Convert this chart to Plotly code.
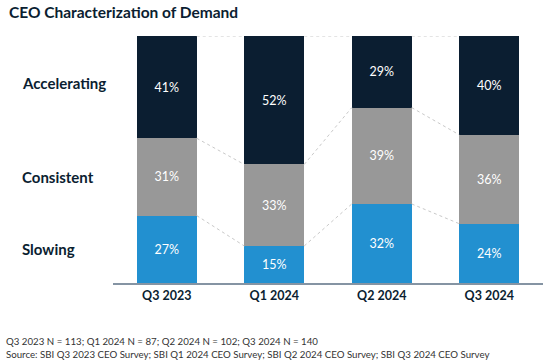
import plotly.graph_objects as go

categories = ["Q3 2023", "Q1 2024", "Q2 2024", "Q3 2024"]
slowing = [27, 15, 32, 24]
consistent = [31, 33, 39, 36]
accelerating = [41, 52, 29, 40]
series_names = ["Slowing", "Consistent", "Accelerating"]
title = "CEO Characterization of Demand"
note1 = "Q3 2023 N = 113; Q1 2024 N = 87; Q2 2024 N = 102; Q3 2024 N = 140"
note2 = "Source: SBI Q3 2023 CEO Survey; SBI Q1 2024 CEO Survey; SBI Q2 2024 CEO Survey; SBI Q3 2024 CEO Survey"

colors = ["#2290D0", "#989898", "#0B1E31"]
series = [slowing, consistent, accelerating]
x = list(range(len(categories)))
bw = 0.558

fig = go.Figure()

# connector lines (normalized cumulative boundaries)
totals = [sum(v) for v in zip(*series)]
cum = [0] * len(categories)
bounds = []
for s in series:
    cum = [c + v for c, v in zip(cum, s)]
    bounds.append([100 * c / t for c, t in zip(cum, totals)])
for b in bounds:
    xs, ys = [], []
    for i in range(len(categories) - 1):
        xs += [i + bw / 2, i + 1 - bw / 2, None]
        ys += [b[i], b[i + 1], None]
    fig.add_trace(go.Scatter(x=xs, y=ys, mode="lines", showlegend=False, hoverinfo="skip",
                             line=dict(color="#c9c9c9", width=1, dash="dot")))

for name, s, c in zip(series_names, series, colors):
    fig.add_trace(go.Bar(
        x=x, y=s, name=name, marker=dict(color=c, line=dict(width=0)), width=bw,
        text=[f"{v}%" for v in s], textposition="inside", insidetextanchor="middle",
        textfont=dict(color="white", size=12.5, family="Lato"), showlegend=False,
    ))

fig.update_layout(
    barmode="stack", barnorm="percent",
    width=545, height=361, margin=dict(l=113, r=2, t=36, b=78),
    plot_bgcolor="white", paper_bgcolor="white",
    font=dict(family="Lato", color="#0B1E31"),
    xaxis=dict(range=[-0.5, 3.5], tickvals=x, ticktext=categories, showgrid=False,
               showline=True, linecolor="#8594a3", linewidth=1.5, ticks="",
               tickfont=dict(size=12.5, family="Lato", color="#0B1E31", weight="bold")),
    yaxis=dict(range=[0, 100], visible=False),
    uniformtext=dict(minsize=8, mode="show"),
)

# title
fig.add_annotation(text=f"<b>{title}</b>", xref="paper", yref="paper", x=-113/430 + 7/430, y=1 + 24/247,
                   xanchor="left", yanchor="middle", showarrow=False,
                   font=dict(size=15.5, family="Lato", color="#0B1E31"))

# row labels aligned with first bar segments
prev = 0
for name, b in zip(series_names, bounds):
    fig.add_annotation(text=f"<b>{name}</b>", xref="paper", yref="y", x=-113/430 + 20/430,
                       y=(prev + b[0]) / 2 + (1.5 if name == "Accelerating" else 0), xanchor="left", yanchor="middle",
                       showarrow=False, font=dict(size=15, family="Lato", color="#0B1E31"))
    prev = b[0]

fig.add_annotation(text=note1 + "<br>" + note2, xref="paper", yref="paper", x=-113/430 + 4/430,
                   y=-(333 - 283) / 247, xanchor="left", yanchor="top", align="left", showarrow=False,
                   font=dict(size=9.7, family="Lato", color="#333333"))

fig.write_html("out.html", config={"displayModeBar": False},
               post_script="document.body.style.margin='0px';")
